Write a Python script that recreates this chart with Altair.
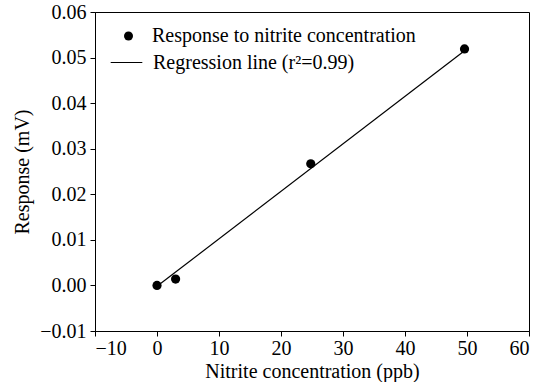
import altair as alt
import pandas as pd

# data
conc = [0.0, 3.0, 24.8, 49.6]
resp = [0.0, 0.0014, 0.0267, 0.0519]
reg_x = [0.0, 49.6]
reg_y = [-0.0002, 0.0515]
x_ticks = [-10, 0, 10, 20, 30, 40, 50, 60]
y_ticks = [-0.01, 0.0, 0.01, 0.02, 0.03, 0.04, 0.05, 0.06]
series = ["Response to nitrite concentration", "Regression line (r\u00b2=0.99)"]

pts = pd.DataFrame({"x": conc, "y": resp, "s": series[0]})
reg = pd.DataFrame({"x": reg_x, "y": reg_y, "s": series[1]})

FONT = "Liberation Serif"

xscale = alt.Scale(domain=[-10, 60], nice=False, zero=False)
yscale = alt.Scale(domain=[-0.01, 0.06], nice=False, zero=False)

xaxis = alt.Axis(values=x_ticks, format="d", title="Nitrite concentration (ppb)",
                 grid=False, tickSize=5, labelPadding=2, titlePadding=3,
                 labelFont=FONT, titleFont=FONT, labelFontSize=20, titleFontSize=20)
yaxis = alt.Axis(values=y_ticks, format=".2f", title="Response (mV)",
                 grid=False, tickSize=5, labelPadding=4, titlePadding=7,
                 labelFont=FONT, titleFont=FONT, labelFontSize=20, titleFontSize=20)

line = alt.Chart(reg).mark_line(strokeWidth=1.2).encode(
    x=alt.X("x:Q", scale=xscale, axis=xaxis),
    y=alt.Y("y:Q", scale=yscale, axis=yaxis),
    color=alt.Color(
        "s:N",
        scale=alt.Scale(domain=[series[1]], range=["black"]),
        legend=alt.Legend(
            title=None, orient="none", legendX=15, legendY=34,
            symbolType="stroke", symbolSize=1000, symbolStrokeWidth=1.2,
            labelFontSize=20, labelFont=FONT, labelColor="black",
            labelOffset=10, padding=0, labelLimit=400,
        ),
    ),
)

points = alt.Chart(pts).mark_point(filled=True, color="black", size=85, opacity=1).encode(
    x=alt.X("x:Q", scale=xscale, axis=xaxis),
    y=alt.Y("y:Q", scale=yscale, axis=yaxis),
    shape=alt.Shape(
        "s:N",
        scale=alt.Scale(domain=[series[0]], range=["circle"]),
        legend=alt.Legend(
            title=None, orient="none", legendX=23.5, legendY=14,
            symbolSize=81, symbolFillColor="black",
            labelFontSize=20, labelFont=FONT, labelColor="black",
            labelOffset=13.5, padding=0, labelLimit=400,
        ),
    ),
)

chart = alt.layer(line, points).properties(
    width=434, height=319,
    autosize=alt.AutoSizeParams(type="none"),
    padding={"left": 95, "top": 12, "right": 14, "bottom": 51},
).configure_view(
    stroke="black", strokeWidth=1
).configure_axis(
    labelFont=FONT, titleFont=FONT, labelFontSize=20, titleFontSize=20,
    labelColor="black", titleColor="black", domainColor="black", tickColor="black",
    titleFontWeight="normal", domainWidth=1, tickWidth=1,
)

chart.save("out.html", embed_options={"renderer": "svg", "actions": False})
